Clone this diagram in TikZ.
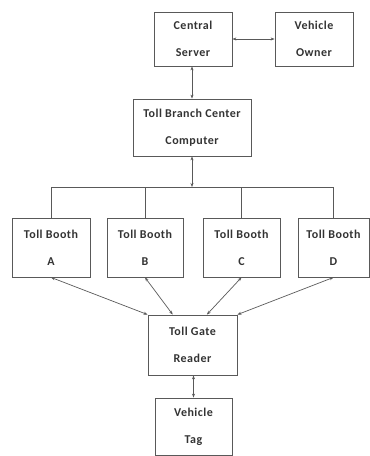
\documentclass[tikz,border=0pt]{standalone}
\usepackage{fontspec}
\setmainfont{Carlito}
\usetikzlibrary{calc,arrows.meta}

\begin{document}
\begin{tikzpicture}[x=1pt, y=-1pt,
	box/.style={draw=black!65, line width=0.8pt, align=center, inner sep=0pt,
		font=\fontsize{12}{27}\selectfont\bfseries\addfontfeature{LetterSpace=4}, text=black!80},
	link/.style={draw=black!65, line width=0.7pt, {Stealth[length=4pt,width=3pt]}-{Stealth[length=4pt,width=3pt]}},
	wire/.style={draw=black!65, line width=0.7pt}]
	\useasboundingbox (0,0) rectangle (370,456);
	% top row
	\node[box, minimum width=78pt, minimum height=54pt] (server) at (193,39) {Central\\Server};
	\node[box, minimum width=78pt, minimum height=54pt] (owner) at (314,39) {Vehicle\\Owner};
	\node[box, minimum width=118pt, minimum height=57pt] (branch) at (192,127.5) {Toll Branch Center\\Computer};
	% booths
	\node[box, minimum width=78pt, minimum height=59pt] (boothA) at (51,247.5) {Toll Booth\\A};
	\node[box, minimum width=76pt, minimum height=59pt] (boothB) at (145,247.5) {Toll Booth\\B};
	\node[box, minimum width=77pt, minimum height=59pt] (boothC) at (241.5,247.5) {Toll Booth\\C};
	\node[box, minimum width=71pt, minimum height=59pt] (boothD) at (333.5,247.5) {Toll Booth\\D};
	% reader and tag
	\node[box, minimum width=89pt, minimum height=60pt] (reader) at (192.5,345) {Toll Gate\\Reader};
	\node[box, minimum width=77pt, minimum height=57pt] (tag) at (193.5,426.5) {Vehicle\\Tag};
	\coordinate (bus) at (branch.south |- 0,187);
	\draw[link] (server) -- (owner);
	\draw[link] (server.south -| branch.north) -- (branch.north);
	\draw[link] (branch.south) -- (bus);
	\draw[wire] (boothA.north |- bus) -- (boothD.north |- bus);
	\foreach \b in {A,B,C,D}
	{\draw[wire] (booth\b.north) -- (booth\b.north |- bus);}
	\draw[link] (boothA.south) -- (reader.north west);
	\draw[link] (boothB.south) -- ($(reader.north west)!0.28!(reader.north east)$);
	\draw[link] (boothC.south) -- ($(reader.north west)!0.66!(reader.north east)$);
	\draw[link] (boothD.south) -- (reader.north east);
	\draw[link] (reader.south -| tag.north) -- (tag.north);
\end{tikzpicture}
\end{document}
